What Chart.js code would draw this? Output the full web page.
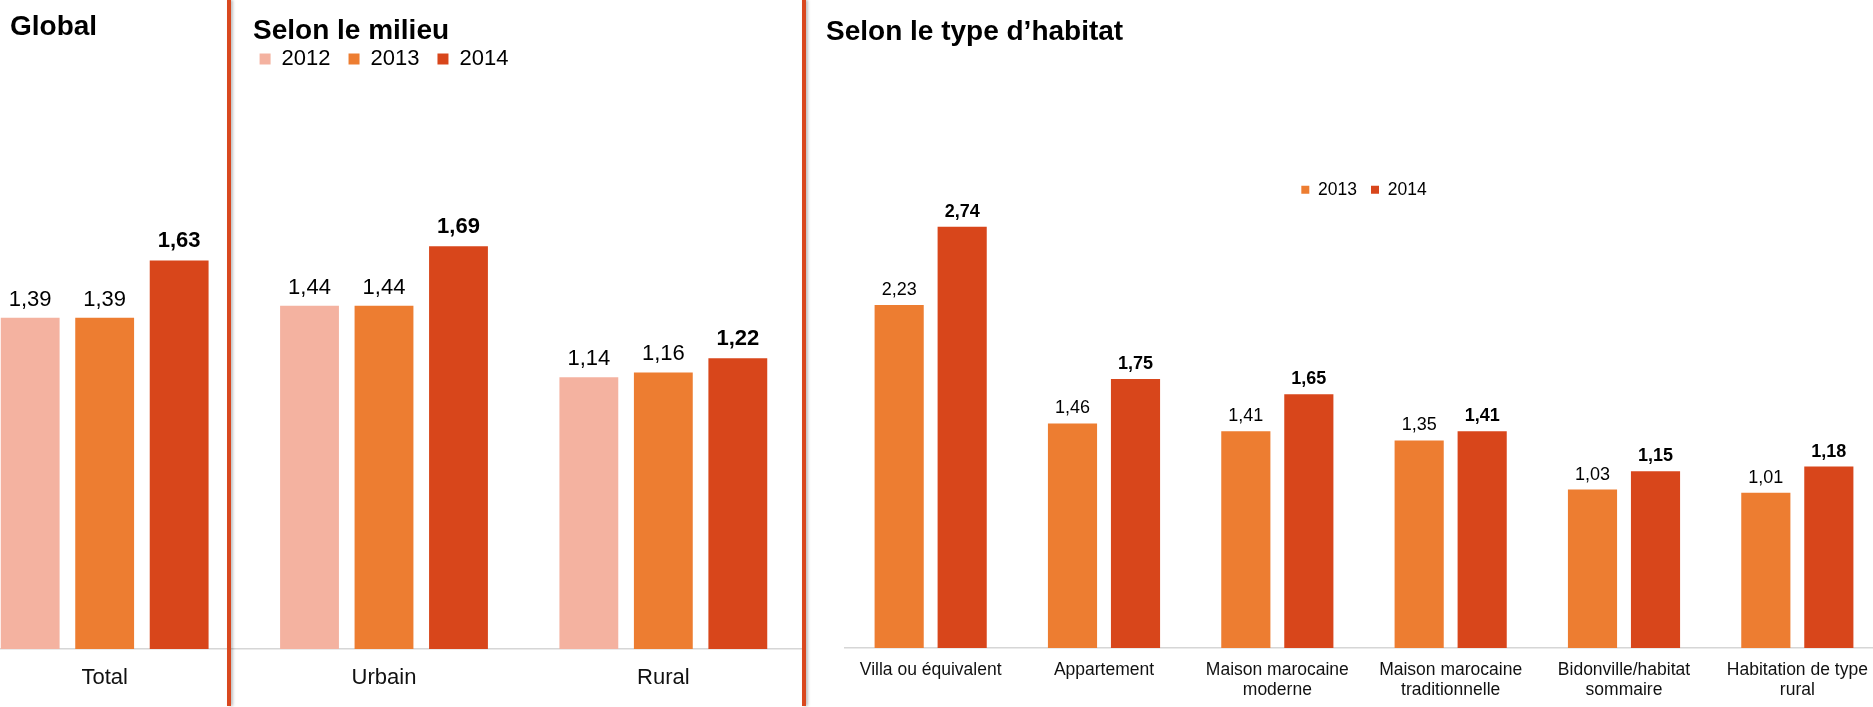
<!DOCTYPE html>
<html>
<head>
<meta charset="utf-8">
<script src="https://cdn.jsdelivr.net/npm/chart.js@4.4.0/dist/chart.umd.min.js"></script>
<style>
  html, body { margin: 0; padding: 0; background: #fff; overflow: hidden; }
  #page { position: relative; width: 1873px; height: 707px; overflow: hidden; font-family: "Liberation Sans", Arial, sans-serif; }
  .title { position: absolute; font-weight: bold; font-size: 28px; line-height: 28px; color: #000; white-space: nowrap; z-index: 3; }
  .sep { position: absolute; top: 0; width: 4px; height: 706px; background: #d9481f; box-shadow: 2px 0 3px rgba(0,0,0,0.25); z-index: 4; }
  canvas { position: absolute; top: 0; }
</style>
</head>
<body>
<div id="page">
  <canvas id="milieuChart" width="838" height="707" style="left:-35px"></canvas>
  <canvas id="habitatChart" width="1040" height="707" style="left:844px"></canvas>
  <div class="title" style="left:10px;top:12px">Global</div>
  <div class="title" style="left:253px;top:16px">Selon le milieu</div>
  <div class="title" style="left:826px;top:17px">Selon le type d’habitat</div>
  <div class="sep" style="left:227px"></div>
  <div class="sep" style="left:802px"></div>
</div>
<script>
// ---- data ----
const milieuLabels = ['Total', 'Urbain', 'Rural'];
const milieu2012 = [1.39, 1.44, 1.14];
const milieu2013 = [1.39, 1.44, 1.16];
const milieu2014 = [1.63, 1.69, 1.22];

const habitatLabels = [
  'Villa ou équivalent',
  'Appartement',
  ['Maison marocaine', 'moderne'],
  ['Maison marocaine', 'traditionnelle'],
  ['Bidonville/habitat', 'sommaire'],
  ['Habitation de type', 'rural']
];
const habitat2013 = [2.23, 1.46, 1.41, 1.35, 1.03, 1.01];
const habitat2014 = [2.74, 1.75, 1.65, 1.41, 1.15, 1.18];

const col2012 = '#f4b2a0';
const col2013 = '#ed7d31';
const col2014 = '#d8461b';

const FONT = '"Liberation Sans", Arial, sans-serif';
Chart.defaults.font.family = FONT;
Chart.defaults.color = '#000';

// valeurs au-dessus des barres (2014 en gras)
const valueLabels = {
  id: 'valueLabels',
  afterDatasetsDraw(chart, args, opts) {
    const ctx = chart.ctx;
    ctx.save();
    ctx.textAlign = 'center';
    ctx.textBaseline = 'alphabetic';
    ctx.fillStyle = '#000';
    chart.data.datasets.forEach((ds, i) => {
      const bold = ds.label === '2014';
      ctx.font = (bold ? 'bold ' : '') + opts.size + 'px ' + FONT;
      chart.getDatasetMeta(i).data.forEach((bar, j) => {
        const txt = ds.data[j].toFixed(2).replace('.', ',');
        ctx.fillText(txt, bar.x, bar.y - (bold ? opts.boldGap : opts.gap));
      });
    });
    ctx.restore();
  }
};

function xAxis(fontSize, pad, h) {
  return {
    grid: { display: false, drawTicks: false },
    border: { display: true, color: '#d6d6d6', width: 1.5 },
    ticks: { color: '#111', font: { size: fontSize, lineHeight: 1.15 }, padding: pad, maxRotation: 0, autoSkip: false },
    afterFit: (scale) => { scale.height = h; }
  };
}

// ---- Global + Selon le milieu ----
new Chart(document.getElementById('milieuChart'), {
  type: 'bar',
  data: {
    labels: milieuLabels,
    datasets: [
      { label: '2012', data: milieu2012, backgroundColor: col2012 },
      { label: '2013', data: milieu2013, backgroundColor: col2013 },
      { label: '2014', data: milieu2014, backgroundColor: col2014 }
    ]
  },
  options: {
    responsive: false,
    animation: false,
    datasets: { bar: { categoryPercentage: 0.8, barPercentage: 0.79 } },
    layout: { padding: { top: 30, left: 0, right: 0, bottom: 0 } },
    plugins: {
      legend: {
        position: 'top',
        labels: { boxWidth: 11, boxHeight: 11, padding: 18, font: { size: 22 }, color: '#000' }
      },
      tooltip: { enabled: false },
      valueLabels: { size: 22, gap: 12, boldGap: 13 }
    },
    scales: {
      x: xAxis(22, 16, 58),
      y: { display: false, min: 0, max: 2.387 }
    }
  },
  plugins: [valueLabels]
});

// ---- Selon le type d'habitat ----
new Chart(document.getElementById('habitatChart'), {
  type: 'bar',
  data: {
    labels: habitatLabels,
    datasets: [
      { label: '2013', data: habitat2013, backgroundColor: col2013 },
      { label: '2014', data: habitat2014, backgroundColor: col2014 }
    ]
  },
  options: {
    responsive: false,
    animation: false,
    datasets: { bar: { categoryPercentage: 0.727, barPercentage: 0.78 } },
    layout: { padding: { top: 167, left: 0, right: 0, bottom: 0 } },
    plugins: {
      legend: {
        position: 'top',
        labels: { boxWidth: 8, boxHeight: 8, padding: 14, font: { size: 17.5 }, color: '#000' }
      },
      tooltip: { enabled: false },
      valueLabels: { size: 18, gap: 10, boldGap: 10 }
    },
    scales: {
      x: xAxis(17.5, 12, 59),
      y: { display: false, min: 0, max: 2.858 }
    }
  },
  plugins: [valueLabels]
});
</script>
</body>
</html>
